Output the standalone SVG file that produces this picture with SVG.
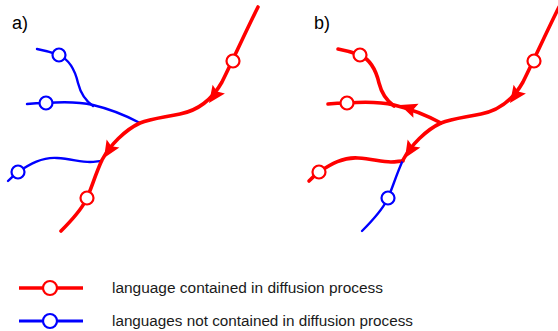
<svg xmlns="http://www.w3.org/2000/svg" width="558" height="331" viewBox="0 0 558 331">
<style>
.red{fill:none;stroke:#ff0000;stroke-width:3.6;stroke-linecap:round;stroke-linejoin:round}
.blue{fill:none;stroke:#0000ff;stroke-width:2.4;stroke-linecap:round;stroke-linejoin:round}
.rc{fill:#ffffff;stroke:#ff0000;stroke-width:2.2}
.bc{fill:#ffffff;stroke:#0000ff;stroke-width:2.2}
.ah{fill:#ff0000}
.lbl{font-family:"Liberation Sans",Arial,sans-serif;font-size:18px;fill:#000000}
.leg{font-family:"Liberation Sans",Arial,sans-serif;font-size:15.3px;fill:#1a1a1a}
</style>
<defs>
<path id="arrow" d="M0,0 L-17,-7.5 L-14,0 L-17,7.5 Z"/>
</defs>
<rect width="558" height="331" fill="#ffffff"/>

<g id="labels">
<text class="lbl" x="12" y="29">a)</text>
<text class="lbl" x="314" y="29">b)</text>
</g>

<g id="connectors">
<g id="panel-a-edges">
<path class="blue" d="M37,49 Q48,51 59,55 C70,60 75,70 78,83 C81,95 86,101 93,106"/>
<path class="blue" d="M27,104 Q36,103 46,103 C60,102 80,102 93,105 C110,109 125,115 140,123"/>
<path class="blue" d="M8,181 Q13,176 18,172 C30,164 42,157 57,158 C72,159 80,162 90,162 C95,162 99,161 102,161"/>
<path class="red" d="M258,7 C245,33 232,62 222,82 C213,98 200,110 180,114 C160,118 150,119 140,123 C125,130 110,145 102,160 C95,175 91,190 86,200 C80,212 70,222 61,231"/>
<use href="#arrow" class="ah" transform="translate(209,103) rotate(125)"/>
<use href="#arrow" class="ah" transform="translate(104,158) rotate(122)"/>
</g>
<g id="panel-b-edges" transform="translate(301,0)">
<path class="red" d="M37,49 Q48,51 59,55 C70,60 75,70 78,83 C81,95 86,101 93,106"/>
<path class="red" d="M27,104 Q36,103 46,103 C60,102 80,102 93,105 C110,109 125,115 140,123"/>
<path class="red" d="M8,181 Q13,176 18,172 C30,164 42,157 57,158 C72,159 80,162 90,162 C95,162 99,161 102,161"/>
<path class="blue" d="M102,160 C95,175 91,190 86,200 C80,212 70,222 61,231"/>
<path class="red" d="M258,7 C245,33 232,62 222,82 C213,98 200,110 180,114 C160,118 150,119 140,123 C125,130 110,145 102,160"/>
<use href="#arrow" class="ah" transform="translate(209,103) rotate(125)"/>
<use href="#arrow" class="ah" transform="translate(104,158) rotate(122)"/>
<use href="#arrow" class="ah" transform="translate(99,105) rotate(200)"/>
</g>
</g>

<g id="node-a1"><circle class="rc" cx="233" cy="61" r="6.5"/></g>
<g id="node-a2"><circle class="rc" cx="87" cy="198" r="6.5"/></g>
<g id="node-a3"><circle class="bc" cx="59" cy="55" r="6.5"/></g>
<g id="node-a4"><circle class="bc" cx="46" cy="103" r="6.5"/></g>
<g id="node-a5"><circle class="bc" cx="18" cy="172" r="6.5"/></g>

<g id="node-b1"><circle class="rc" cx="534" cy="61" r="6.5"/></g>
<g id="node-b2"><circle class="bc" cx="388" cy="198" r="6.5"/></g>
<g id="node-b3"><circle class="rc" cx="360" cy="55" r="6.5"/></g>
<g id="node-b4"><circle class="rc" cx="347" cy="103" r="6.5"/></g>
<g id="node-b5"><circle class="rc" cx="319" cy="172" r="6.5"/></g>

<g id="legend-red">
<line class="red" x1="19" y1="288" x2="83" y2="288" style="stroke-linecap:butt"/>
<circle class="rc" cx="50" cy="288" r="7"/>
<text class="leg" x="112" y="293" textLength="271" lengthAdjust="spacingAndGlyphs">language contained in diffusion process</text>
</g>
<g id="legend-blue">
<line class="blue" x1="19" y1="321" x2="83" y2="321" style="stroke-linecap:butt;stroke-width:3"/>
<circle class="bc" cx="50" cy="321" r="7"/>
<text class="leg" x="112" y="326" textLength="301" lengthAdjust="spacingAndGlyphs">languages not contained in diffusion process</text>
</g>
</svg>
